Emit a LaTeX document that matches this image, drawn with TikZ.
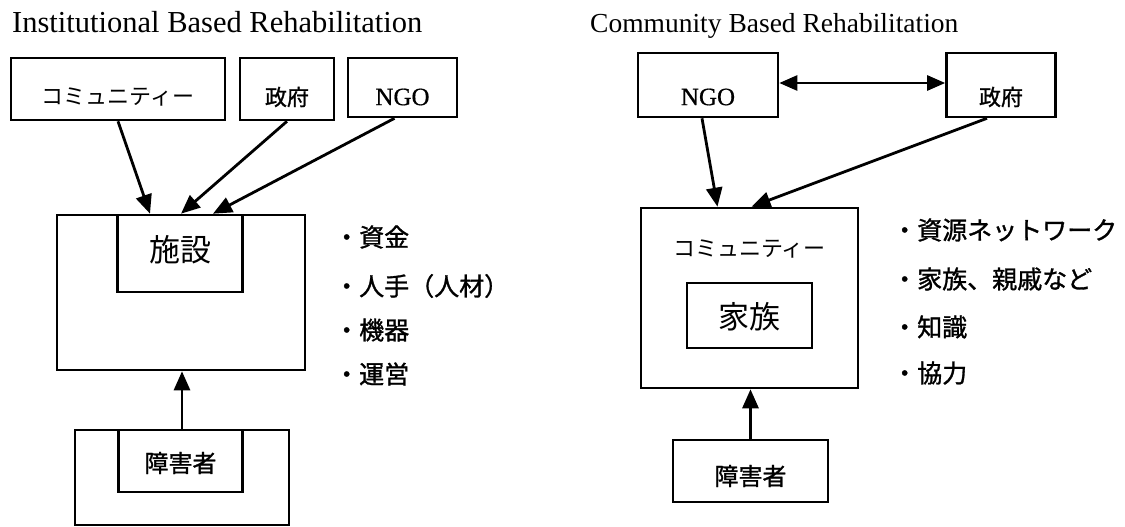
\documentclass[tikz,border=0pt]{standalone}
\usepackage{fontspec}
\setmainfont{Liberation Serif}
\newfontfamily\jp[FakeBold=1.2]{Noto Sans CJK JP}
\newfontfamily\jpl{Noto Sans CJK JP}
\newfontfamily\ngofont[FakeBold=0.6]{Liberation Serif}
\usetikzlibrary{arrows.meta,calc}
\begin{document}
\begin{tikzpicture}[x=1pt,y=-1pt,
  box/.style={draw, line width=2.6pt, inner sep=0pt},
  conn/.style={line width=2.8pt, -{Triangle[length=19pt,width=16pt]}},
  biconn/.style={line width=2.6pt, {Triangle[length=18pt,width=15pt]}-{Triangle[length=18pt,width=15pt]}},
  ttl/.style={font=\fontsize{30.5}{30.5}\selectfont, anchor=base west, inner sep=0pt},
  lat/.style={font=\ngofont\fontsize{25}{25}\selectfont, inner sep=0pt},
  jsm/.style={font=\jpl\fontsize{22}{22}\selectfont, inner sep=0pt},
  jkan/.style={font=\jp\fontsize{22}{22}\selectfont, inner sep=0pt},
  jmd/.style={font=\jp\fontsize{24}{24}\selectfont, inner sep=0pt},
  jbig/.style={font=\jpl\fontsize{31}{31}\selectfont, inner sep=0pt},
  bul/.style={font=\jp\fontsize{25}{25}\selectfont, inner sep=0pt, anchor=west}]
\useasboundingbox (0,0) rectangle (1125,527);
\fill[white] (0,0) rectangle (1125,527);

% ---------- Left: Institutional Based Rehabilitation ----------
\node[ttl] (titleL) at (12,33) {Institutional Based Rehabilitation};

\node[box, minimum width=214pt, minimum height=62pt] (cL) at (118,89) {};
\node[jsm] (cLt) at (118,97) {コミュニティー};
\node[box, minimum width=94pt, minimum height=62pt] (gL) at (287,89) {};
\node[jkan] (gLt) at (287,97) {政府};
\node[box, minimum width=109pt, minimum height=59pt] (nL) at (402.5,87.5) {};
\node[lat] (nLt) at (402.5,97) {NGO};

\node[box, minimum width=248pt, minimum height=155pt] (bigL) at (181,292.5) {};
\node[box, minimum width=125pt, minimum height=77pt] (facL) at (180,253.5) {};
\node[jbig] (facLt) at (180,250) {施設};

\node[box, minimum width=214pt, minimum height=95pt] (pwdLo) at (182,477.5) {};
\node[box, minimum width=124pt, minimum height=62pt] (pwdL) at (180.5,461) {};
\node[jmd] (pwdLt) at (180.5,463) {障害者};

\draw[conn] (cL.south) -- ($(bigL.north)+(-31,0)$);
\draw[conn] (gL.south) -- (bigL.north);
\draw[conn] ($(nL.south)+(-8,0)$) -- ($(bigL.north)+(32,0)$);
\draw[conn] (pwdLo.north) -- (pwdLo.north |- bigL.south);

\node[bul] (b1) at (334,237) {・資金};
\node[bul] (b2) at (334,286) {・人手（人材）};
\node[bul] (b3) at (334,330) {・機器};
\node[bul] (b4) at (334,374) {・運営};

% ---------- Right: Community Based Rehabilitation ----------
\node[ttl, font=\fontsize{27.5}{27.5}\selectfont] (titleR) at (590,33) {Community Based Rehabilitation};

\node[box, minimum width=140pt, minimum height=64pt] (nR) at (708,85) {};
\node[lat] (nRt) at (708,97) {NGO};
\node[box, minimum width=109pt, minimum height=64pt] (gR) at (1001,85) {};
\node[jkan] (gRt) at (1001,97) {政府};
\draw[biconn] (nR.east |- 0,83) -- (gR.west |- 0,83);

\node[box, minimum width=217pt, minimum height=180pt] (cR) at (749.5,298) {};
\node[jsm] (cRt) at (749.5,249) {コミュニティー};
\node[box, minimum width=125pt, minimum height=65pt] (famR) at (749.5,315.5) {};
\node[jbig] (famRt) at (749.5,317) {家族};

\node[box, minimum width=155pt, minimum height=62pt] (pwdR) at (750.5,471) {};
\node[jmd] (pwdRt) at (750.5,476) {障害者};

\draw[conn] ($(nR.south)+(-6,0)$) -- ($(cR.north)+(-32,0)$);
\draw[conn] ($(gR.south)+(-14,0)$) -- ($(cR.north)+(2,0)$);
\draw[conn] (pwdR.north) -- (pwdR.north |- cR.south);

\node[bul] (r1) at (892,230) {・資源ネットワーク};
\node[bul] (r2) at (892,279) {・家族、親戚など};
\node[bul] (r3) at (892,327) {・知識};
\node[bul] (r4) at (892,373) {・協力};
\end{tikzpicture}
\end{document}
